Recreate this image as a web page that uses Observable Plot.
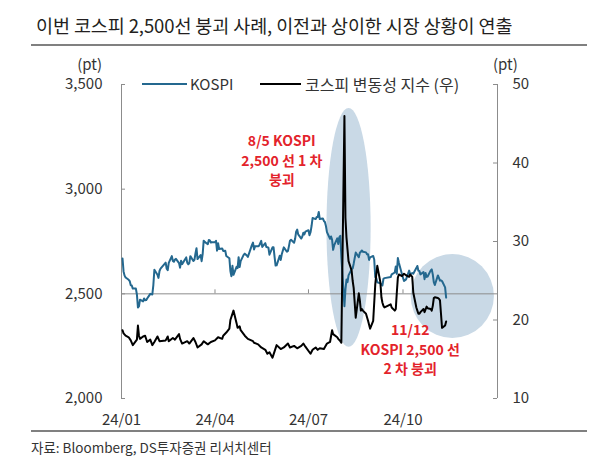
<!DOCTYPE html>
<html><head><meta charset="utf-8">
<script src="https://cdn.jsdelivr.net/npm/d3@7"></script>
<script src="https://cdn.jsdelivr.net/npm/@observablehq/plot@0.6"></script>
<style>
body{margin:0;background:#fff;font-family:"Noto Sans CJK KR","Noto Sans",sans-serif;color:#333}
#wrap{position:relative;width:600px;height:475px;overflow:hidden;background:#fff}
.abs{position:absolute;white-space:nowrap}
.t{height:20px;line-height:20px}
.rule{left:31px;width:556px;height:2px;background:#808080}
</style></head><body>
<div id="wrap">
  <div class="abs" id="title" style="left:36px;top:12px;height:26px;line-height:26px;font-size:18.5px;color:#231f20;letter-spacing:-0.1px">이번 코스피 2,500선 붕괴 사례, 이전과 상이한 시장 상황이 연출</div>
  <div class="abs rule" style="top:44px"></div>
  <div id="chart" class="abs" style="left:0;top:55px"></div>
  <div class="abs" style="right:498px;top:57px;height:14px;line-height:14px;font-size:15px">(pt)</div>
  <div class="abs" style="left:493px;top:57px;height:14px;line-height:14px;font-size:15px">(pt)</div>
  <div class="abs" style="left:142px;top:83px;width:45px;height:2px;background:#24688f"></div>
  <div class="abs t" style="left:190px;top:74px;font-size:15px">KOSPI</div>
  <div class="abs" style="left:260px;top:83px;width:41px;height:2px;background:#000"></div>
  <div class="abs t" style="left:305px;top:74px;font-size:16px">코스피 변동성 지수 (우)</div>
  <div class="abs rule" style="top:430px"></div>
  <div class="abs t" style="left:31px;top:437px;font-size:13.5px">자료: Bloomberg, DS투자증권 리서치센터</div>
</div>
<script>
// KOSPI (pt)
const kospiDates = ["01-02","01-03","01-04","01-05","01-08","01-09","01-10","01-11","01-12","01-15","01-16","01-17","01-18","01-19","01-22","01-23","01-24","01-25","01-26","01-29","01-30","01-31",
"02-01","02-02","02-05","02-06","02-07","02-08","02-13","02-14","02-15","02-16","02-19","02-20","02-21","02-22","02-23","02-26","02-27","02-28","02-29",
"03-04","03-05","03-06","03-07","03-08","03-11","03-12","03-13","03-14","03-15","03-18","03-19","03-20","03-21","03-22","03-25","03-26","03-27","03-28","03-29",
"04-01","04-02","04-03","04-04","04-05","04-08","04-09","04-11","04-12","04-15","04-16","04-17","04-18","04-19","04-22","04-23","04-24","04-25","04-26","04-29","04-30",
"05-02","05-03","05-07","05-08","05-09","05-10","05-13","05-14","05-16","05-17","05-20","05-21","05-22","05-23","05-24","05-27","05-28","05-29","05-30","05-31",
"06-03","06-04","06-05","06-07","06-10","06-11","06-12","06-13","06-14","06-17","06-18","06-19","06-20","06-21","06-24","06-25","06-26","06-27","06-28",
"07-01","07-02","07-03","07-04","07-05","07-08","07-09","07-10","07-11","07-12","07-15","07-16","07-17","07-18","07-19","07-22","07-23","07-24","07-25","07-26","07-29","07-30","07-31",
"08-01","08-02","08-05","08-06","08-07","08-08","08-09","08-12","08-13","08-14","08-16","08-19","08-20","08-21","08-22","08-23","08-26","08-27","08-28","08-29","08-30",
"09-02","09-03","09-04","09-05","09-06","09-09","09-10","09-11","09-12","09-13","09-19","09-20","09-23","09-24","09-25","09-26","09-27","09-30",
"10-02","10-04","10-07","10-08","10-10","10-11","10-14","10-15","10-16","10-17","10-18","10-21","10-22","10-23","10-24","10-25","10-28","10-29","10-30","10-31",
"11-01","11-04","11-05","11-06","11-07","11-08","11-11","11-12"];
const kospiValues = [2669,2607,2587,2578,2567,2561,2541,2540,2525,2525,2497,2435,2440,2472,2464,2478,2469,2470,2478,2500,2498,2497,
2542,2615,2591,2576,2609,2620,2649,2620,2613,2648,2680,2657,2653,2664,2667,2647,2625,2658,2642,
2674,2649,2641,2647,2680,2657,2662,2693,2718,2666,2685,2656,2690,2754,2748,2737,2757,2755,2745,2746,
2747,2753,2706,2742,2714,2717,2705,2706,2681,2670,2609,2584,2634,2591,2629,2623,2675,2628,2656,2687,2692,
2683,2676,2734,2745,2712,2727,2727,2730,2753,2724,2742,2724,2723,2721,2687,2722,2722,2677,2635,2636,
2682,2662,2689,2722,2701,2705,2728,2754,2758,2744,2763,2797,2807,2784,2764,2774,2792,2784,2797,
2804,2780,2794,2824,2862,2857,2867,2867,2891,2857,2860,2848,2843,2824,2795,2763,2774,2758,2710,2731,2765,2738,2770,
2777,2676,2441,2522,2568,2556,2588,2618,2621,2644,2697,2675,2696,2701,2707,2701,2698,2689,2689,2662,2674,
2681,2664,2580,2576,2555,2550,2545,2540,2572,2575,2580,2593,2602,2631,2596,2671,2649,2593,
2561,2569,2611,2594,2599,2596,2623,2633,2610,2609,2593,2604,2570,2599,2581,2583,2612,2617,2593,2556,
2542,2588,2576,2563,2564,2561,2531,2482];

// 코스피 변동성 지수 (VKOSPI, right axis)
const vkDates = ["01-02","01-03","01-05","01-08","01-10","01-12","01-16","01-17","01-18","01-19","01-22","01-24","01-26","01-29","01-31",
"02-02","02-05","02-07","02-13","02-15","02-16","02-20","02-22","02-26","02-27","02-29",
"03-05","03-07","03-11","03-13","03-15","03-19","03-21","03-25","03-28",
"04-01","04-04","04-08","04-09","04-12","04-15","04-16","04-19","04-22","04-23","04-25","04-26","04-30",
"05-03","05-08","05-09","05-13","05-16","05-20","05-22","05-24","05-27","05-29","05-31",
"06-04","06-07","06-11","06-13","06-17","06-20","06-24","06-26","06-28",
"07-03","07-05","07-08","07-10","07-12","07-16","07-19","07-22","07-24","07-25","07-29","07-30",
"08-01","08-02","08-05","08-06","08-07","08-08","08-09","08-12","08-13","08-14","08-16","08-19","08-20","08-21","08-22","08-23","08-26","08-28","08-29","08-30",
"09-02","09-04","09-05","09-06","09-09","09-10","09-11","09-12","09-13","09-19","09-20","09-23","09-24","09-25","09-26","09-27","09-30",
"10-02","10-04","10-07","10-08","10-10","10-11","10-14","10-15","10-16","10-17","10-18","10-21","10-22","10-24","10-25","10-28","10-29","10-30","10-31",
"11-01","11-04","11-05","11-06","11-07","11-08","11-11","11-12"];
const vkValues = [18.7,18.3,18.0,17.8,17.4,16.8,17.5,19.3,18.0,17.6,17.9,18.0,17.2,17.5,16.8,
17.2,17.9,17.3,17.4,17.9,17.3,17.7,17.5,18.2,17.6,17.0,
17.3,17.0,17.7,17.2,16.5,16.9,17.3,16.9,17.2,
17.4,17.8,17.6,18.0,18.4,18.9,20.0,21.2,19.6,19.0,19.2,18.7,18.0,
17.6,17.3,17.1,16.9,16.5,16.2,15.7,15.9,15.2,16.0,16.8,
16.3,16.5,17.0,16.5,16.7,16.4,16.7,17.0,16.6,
15.7,16.2,16.5,16.2,16.4,16.3,17.0,17.2,18.7,18.2,17.8,17.6,
17.3,17.1,46.0,33.0,30.5,29.0,27.5,26.3,25.0,24.1,20.3,23.4,22.5,21.2,21.4,21.2,20.8,19.9,19.4,18.9,
19.9,24.5,25.8,26.9,24.8,22.9,22.2,21.8,21.6,22.0,21.6,21.2,21.4,23.5,25.4,25.8,25.6,
25.9,25.7,25.5,25.8,25.5,23.5,21.6,21.2,20.8,20.8,21.0,21.4,21.0,21.7,21.5,21.4,21.2,21.8,22.8,
22.9,22.8,22.7,22.5,20.8,19.0,19.3,19.8];

const leftTicks = [2000, 2500, 3000, 3500];
const rightTicks = [10, 20, 30, 40, 50];
const xTickLabels = ["24/01", "24/04", "24/07", "24/10"];
const xTickDates = ["2024-01-01", "2024-04-01", "2024-07-01", "2024-10-01"];
const xDomain = ["2024-01-01", "2025-01-01"];

// annotations
const notes = [
  {date: "2024-06-05", value: 3142, text: "8/5 KOSPI\n2,500 선 1 차\n붕괴"},
  {date: "2024-10-08", value: 2239, text: "11/12\nKOSPI 2,500 선\n2 차 붕괴"}
];
const ellipses = [
  {x1: "2024-07-19", x2: "2024-08-31", y1: 3385, y2: 2245},
  {x1: "2024-10-09", x2: "2024-12-29", y1: 2688, y2: 2287}
];

const parse = d3.utcParse("%Y-%m-%d");
const kospi = kospiDates.map((d, i) => ({date: parse("2024-" + d), value: kospiValues[i]}));
const vk = vkDates.map((d, i) => ({date: parse("2024-" + d), value: vkValues[i]}));
const toLeft = v => 2000 + (v - 10) * 37.5;
const fromLeft = y => Math.round((y - 2000) / 37.5 + 10);
const xd = xDomain.map(parse);
const xt = xTickDates.map(parse);
const axisColor = "#8c8c8c";

const ellipseMark = (index, scales) => {
  const g = d3.create("svg:g");
  for (const e of ellipses) {
    const x1 = scales.x(parse(e.x1)), x2 = scales.x(parse(e.x2));
    const y1 = scales.y(e.y1), y2 = scales.y(e.y2);
    g.append("ellipse")
      .attr("cx", (x1 + x2) / 2).attr("cy", (y1 + y2) / 2)
      .attr("rx", Math.abs(x2 - x1) / 2).attr("ry", Math.abs(y2 - y1) / 2)
      .attr("fill", "#c9d9e6");
  }
  return g.node();
};

const width = 600, height = 376, mL = 121, mR = 103, mT = 29, mB = 33;
const innerW = width - mL - mR;
const pxPerUnit = (height - mT - mB) / 1500;

const chart = Plot.plot({
  width, height, marginLeft: mL, marginRight: mR, marginTop: mT, marginBottom: mB,
  style: {fontFamily: '"Noto Sans CJK KR","Noto Sans",sans-serif', fontSize: "15px", color: "#333", background: "transparent", overflow: "visible"},
  x: {type: "utc", domain: xd},
  y: {domain: [2000, 3500]},
  marks: [
    ellipseMark,
    Plot.ruleY([2500], {stroke: axisColor, strokeWidth: 1}),
    Plot.ruleX(xt, {x: d => d, y1: 2500, y2: 2500 + 4 / pxPerUnit, stroke: axisColor}),
    Plot.ruleX([xd[0]], {y1: 2000, y2: 3500, stroke: axisColor}),
    Plot.ruleX([xd[1]], {y1: 2000, y2: 3500, stroke: axisColor}),
    Plot.ruleY(leftTicks, {insetRight: innerW - 4, stroke: axisColor}),
    Plot.ruleY(rightTicks.map(toLeft), {insetLeft: innerW - 4, stroke: axisColor}),
    Plot.axisY({anchor: "left", ticks: leftTicks, tickSize: 0, tickPadding: 19, tickFormat: d3.format(","), label: null, fill: "#333"}),
    Plot.axisY({anchor: "right", ticks: rightTicks.map(toLeft), tickSize: 0, tickPadding: 15, tickFormat: fromLeft, label: null, fill: "#333"}),
    Plot.axisX({ticks: xt, tickSize: 0, tickPadding: 16, tickFormat: (d, i) => xTickLabels[i], label: null, fill: "#333"}),
    Plot.line(kospi, {x: "date", y: "value", stroke: "#24688f", strokeWidth: 2}),
    Plot.line(vk, {x: "date", y: d => toLeft(d.value), stroke: "#000", strokeWidth: 2}),
    Plot.text(notes, {x: d => parse(d.date), y: "value", text: "text", fill: "#e3232b", fontWeight: "bold", fontSize: 14, lineHeight: 1.4})
  ]
});
document.getElementById("chart").appendChild(chart);
</script>
</body></html>
